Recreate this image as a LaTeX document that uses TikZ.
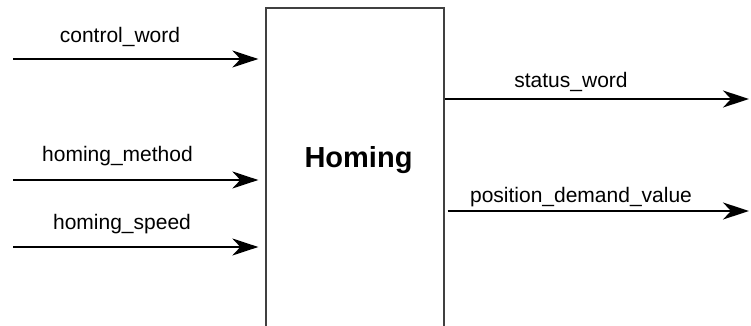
\documentclass[tikz,border=0pt]{standalone}
\usepackage{fontspec}
\setmainfont{Liberation Sans}
\usetikzlibrary{arrows.meta}

\tikzset{
	blockbox/.style={draw=black!75,line width=0.65pt,minimum width=89pt,minimum height=169pt,inner sep=0pt},
	sig/.style={line width=1pt,-{Stealth[length=13pt,width=8.5pt,inset=4pt]}},
	siglabel/.style={anchor=base,inner sep=0pt,font=\fontsize{10.5}{12}\selectfont}
}

\begin{document}
\begin{tikzpicture}[x=0.5pt,y=-0.5pt]
	\clip (0,0) rectangle (751,326);

	%Block
	\node[blockbox] at (355,177) (box) {};
	\node[inner sep=0pt,anchor=base,font=\fontsize{14.5}{17}\selectfont\bfseries] at (358.5,167.5) (boxname) {Homing};

	%Inputs
	\coordinate (cw) at (13,59);
	\coordinate (hm) at (13,180);
	\coordinate (hs) at (13,247);
	\draw[sig,shorten >=3.5pt] (cw) -- (cw -| box.west);
	\draw[sig,shorten >=3.5pt] (hm) -- (hm -| box.west);
	\draw[sig,shorten >=3.5pt] (hs) -- (hs -| box.west);
	\node[siglabel] at (120,43) (cwlabel) {control\_word};
	\node[siglabel] at (117.5,162) (hmlabel) {homing\_method};
	\node[siglabel] at (122,230) (hslabel) {homing\_speed};

	%Outputs
	\coordinate (sw) at (749,99);
	\coordinate (pd) at (749,211);
	\draw[sig] (sw -| box.east) -- (sw);
	\draw[sig,shorten <=1.5pt] (pd -| box.east) -- (pd);
	\node[siglabel] at (571,88) (swlabel) {status\_word};
	\node[siglabel] at (581,203) (pdlabel) {position\_demand\_value};

\end{tikzpicture}
\end{document}
